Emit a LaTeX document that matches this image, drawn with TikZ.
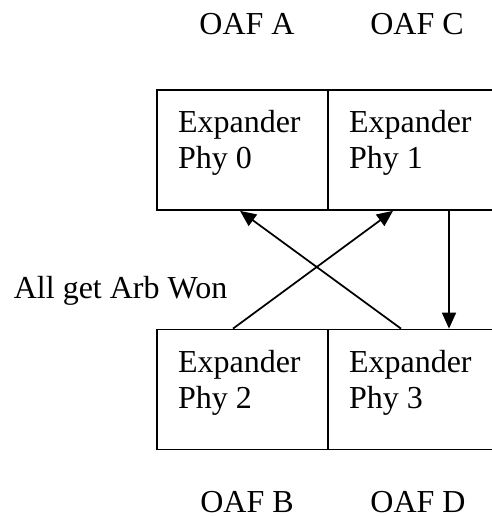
\documentclass[tikz,border=0pt]{standalone}
\usepackage{fontspec}
\setmainfont{Liberation Serif}
\usetikzlibrary{arrows.meta}
\tikzset{every picture/.style={line width=1.3pt}}

\begin{document}
\begin{tikzpicture}[x=0.75pt,y=0.75pt,yscale=-1,xscale=1,
  phybox/.style={draw, rectangle, minimum width=128.25pt, minimum height=90pt, inner sep=0pt},
  phytext/.style={anchor=north west, inner sep=0pt, align=left, font=\fontsize{24}{27}\selectfont},
  oaf/.style={anchor=base, inner sep=0pt, font=\fontsize{24}{28}\selectfont},
  arb/.style={-{Triangle[length=12pt,width=10.5pt]}}]
\useasboundingbox (0,0) rectangle (492,517);

%Shape: Rectangle [Phy 0] 
\node[phybox] (p0) at (242.5,150) {};
%Shape: Rectangle [Phy 1] 
\node[phybox] (p1) at (413.5,150) {};
%Shape: Rectangle [Phy 2] 
\node[phybox] (p2) at (242.5,389.5) {};
%Shape: Rectangle [Phy 3] 
\node[phybox] (p3) at (413.5,389.5) {};

%Straight Lines [Phy 2 to Phy 1] 
\draw[arb] ([xshift=-7.125pt]p2.north) -- ([xshift=-15.375pt]p1.south);
%Straight Lines [Phy 3 to Phy 0] 
\draw[arb] ([xshift=-9.375pt]p3.north) -- ([xshift=-1.875pt]p0.south);
%Straight Lines [Phy 1 to Phy 3] 
\draw[arb] ([xshift=26.625pt]p1.south) -- ([xshift=26.625pt]p3.north);

% Text Node
\node[phytext] (t0) at ([xshift=15.75pt,yshift=15pt]p0.north west) {Expander\\Phy 0};
% Text Node
\node[phytext] (t1) at ([xshift=15.75pt,yshift=15pt]p1.north west) {Expander\\Phy 1};
% Text Node
\node[phytext] (t2) at ([xshift=15.75pt,yshift=15.75pt]p2.north west) {Expander\\Phy 2};
% Text Node
\node[phytext] (t3) at ([xshift=15.75pt,yshift=15.75pt]p3.north west) {Expander\\Phy 3};
% Text Node
\node[oaf] (oafA) at (247,35) {OAF A};
% Text Node
\node[oaf] (oafC) at (417,35) {OAF C};
% Text Node
\node[oaf] (oafB) at (247,512) {OAF B};
% Text Node
\node[oaf] (oafD) at (418,512) {OAF D};
% Text Node
\node[oaf, anchor=base west] (arbwon) at (13,298) {All get Arb Won};

\end{tikzpicture}
\end{document}
